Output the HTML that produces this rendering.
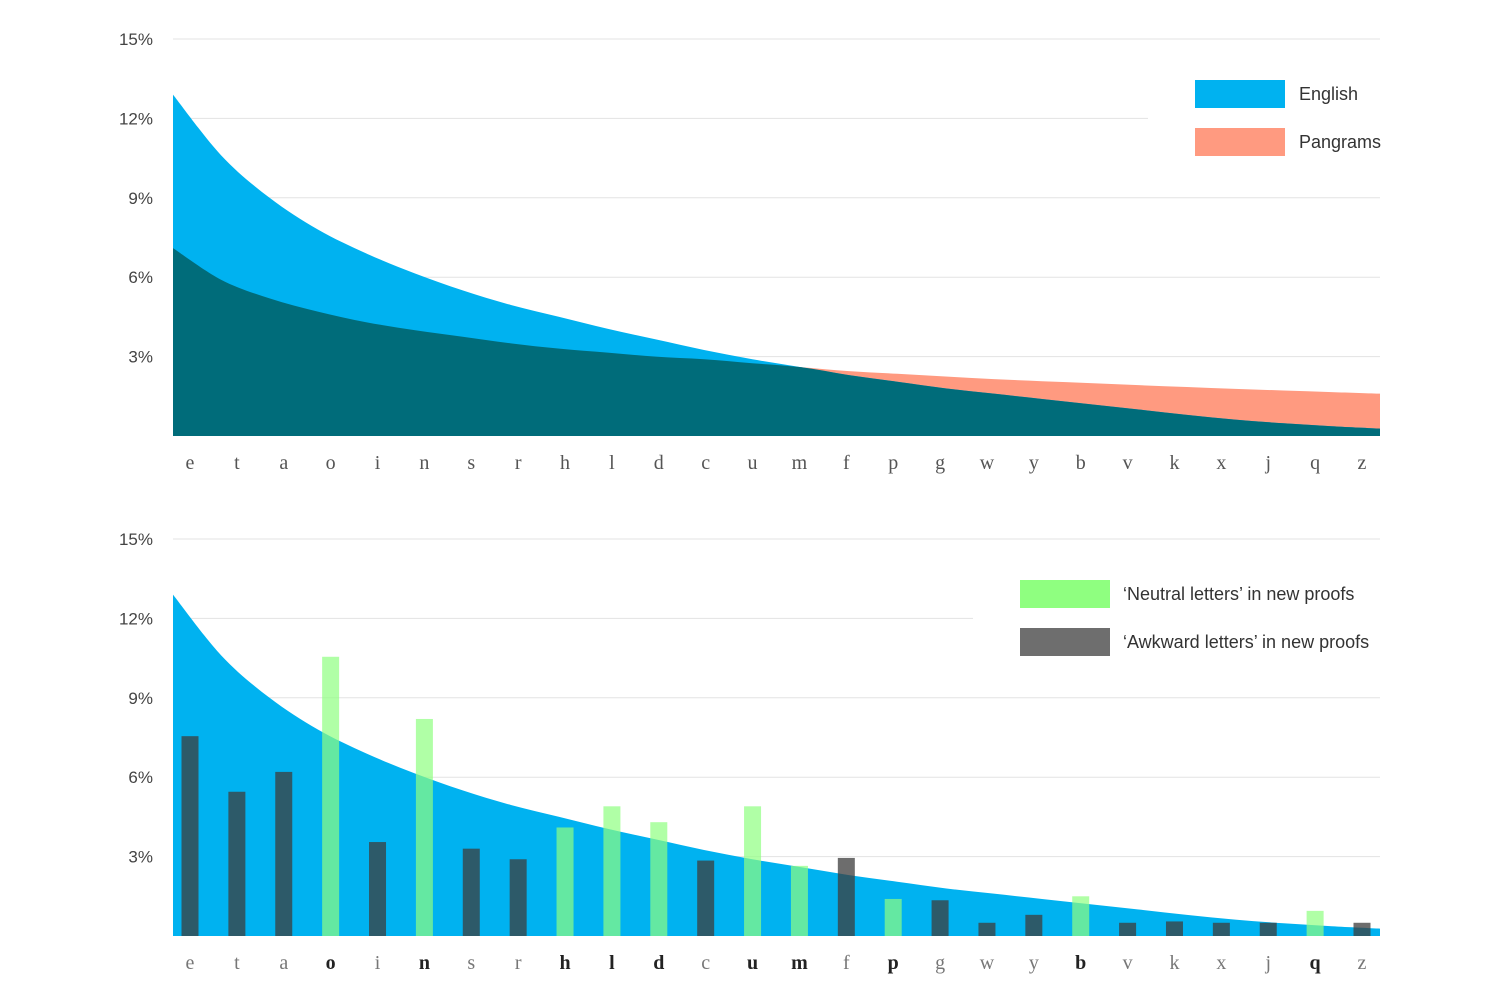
<!DOCTYPE html>
<html><head><meta charset="utf-8">
<style>
html,body{margin:0;padding:0;background:#fff;}
svg text{font-family:"Liberation Sans",sans-serif;}
.ser{font-family:"Liberation Serif",serif !important;}
</style></head>
<body>
<svg id="c" width="1500" height="1000" xmlns="http://www.w3.org/2000/svg"></svg>
<script>
const letters = ["e","t","a","o","i","n","s","r","h","l","d","c","u","m","f","p","g","w","y","b","v","k","x","j","q","z"];
const english = [12.9,10.6,9.0,7.8,6.9,6.15,5.5,4.95,4.5,4.05,3.65,3.25,2.9,2.6,2.3,2.05,1.8,1.6,1.4,1.2,1.0,0.8,0.62,0.48,0.37,0.28];
const pangrams = [7.1,5.9,5.2,4.7,4.3,4.0,3.75,3.5,3.3,3.15,3.0,2.9,2.75,2.6,2.45,2.35,2.25,2.15,2.07,2.0,1.92,1.85,1.78,1.72,1.66,1.6];
const proofValues = [7.55,5.45,6.2,10.55,3.55,8.2,3.3,2.9,4.1,4.9,4.3,2.85,4.9,2.65,2.95,1.4,1.35,0.5,0.8,1.5,0.5,0.55,0.5,0.5,0.95,0.5];
const neutral = ["o","n","h","l","d","u","m","p","b","q"];
const yTicks = [3,6,9,12,15];

const svgRoot = document.getElementById('c');
const NS = "http://www.w3.org/2000/svg";
function el(tag, attrs, parent){const e=document.createElementNS(NS,tag);for(const k in attrs)e.setAttribute(k,attrs[k]);(parent||svgRoot).appendChild(e);return e;}
const X0=173,X1=1380;
const ax = i => X0 + i*(X1-X0)/(letters.length-1);
const lx = i => 190 + i*(1362-190)/(letters.length-1);
const PX = 397/15;

function areaPath(vals, y0){
  const pts = vals.map((v,i)=>[ax(i), y0 - v*PX]);
  let d = `M${X0},${y0} L${pts[0][0]},${pts[0][1]}`;
  for(let i=0;i<pts.length-1;i++){
    const p0=pts[Math.max(0,i-1)],p1=pts[i],p2=pts[i+1],p3=pts[Math.min(pts.length-1,i+2)];
    const c1=[p1[0]+(p2[0]-p0[0])/6,p1[1]+(p2[1]-p0[1])/6];
    const c2=[p2[0]-(p3[0]-p1[0])/6,p2[1]-(p3[1]-p1[1])/6];
    d+=` C${c1[0]},${c1[1]} ${c2[0]},${c2[1]} ${p2[0]},${p2[1]}`;
  }
  return d + ` L${X1},${y0} Z`;
}

function drawChart(y0, gridCut, name){
  const g = el('g',{});
  
  
  yTicks.forEach(t=>{
    const y = y0 - t*PX;
    const ln = el('line',{x1:X0,x2:(t===12?gridCut:X1),y1:y,y2:y,stroke:'#e3e3e3','stroke-width':1},g);
    
    
    const tx = el('text',{x:153,y:y+6,'text-anchor':'end','font-size':17,fill:'#444'},g);
    tx.textContent = t+'%';
    
    
  });
  return g;
}

// Top chart
const topChart = drawChart(436, 1148, 'top-chart');
let p = el('path',{d:areaPath(pangrams,436),fill:'#ff9a80'},topChart);


p = el('path',{d:areaPath(english,436),fill:'#00b2f0'},topChart);


p = el('path',{d:areaPath(english.map((v,i)=>Math.min(v,pangrams[i])),436),fill:'#006c7a'},topChart);


letters.forEach((L,i)=>{
  const t = el('text',{x:lx(i),y:469,'text-anchor':'middle','font-size':20,fill:'#555',class:'ser'},topChart);
  t.textContent=L;
  
  
});
[['#00b2f0','English',80],['#ff9a80','Pangrams',128]].forEach(([c,n,y])=>{
  const r=el('rect',{x:1195,y:y,width:90,height:28,fill:c},topChart);
  
  
  const t=el('text',{x:1299,y:y+20,'font-size':18,fill:'#333'},topChart);
  t.textContent=n;
  
  
});

// Bottom chart
const botChart = drawChart(936, 973, 'bottom-chart');
p = el('path',{d:areaPath(english,936),fill:'#00b2f0'},botChart);


letters.forEach((L,i)=>{
  const isN = neutral.includes(L);
  const h = proofValues[i]*PX;
  const r = el('rect',{x:lx(i)-8.5,y:936-h,width:17,height:h,fill:isN?'#8fff80':'#3c3c3c'},botChart);
  r.setAttribute('fill-opacity', isN ? '0.7' : '0.75');
  
  
  const t = el('text',{x:lx(i),y:969,'text-anchor':'middle','font-size':20,fill:isN?'#222':'#777','font-weight':isN?'bold':'normal',class:'ser'},botChart);
  t.textContent=L;
  
  
});
[['#8fff80','\u2018Neutral letters\u2019 in new proofs',580,'neutral'],['#6e6e6e','\u2018Awkward letters\u2019 in new proofs',628,'awkward']].forEach(([c,n,y,k])=>{
  const r=el('rect',{x:1020,y:y,width:90,height:28,fill:c},botChart);
  
  
  const t=el('text',{x:1123,y:y+20,'font-size':18,fill:'#333'},botChart);
  t.textContent=n;
  
  
});
</script>
</body></html>
